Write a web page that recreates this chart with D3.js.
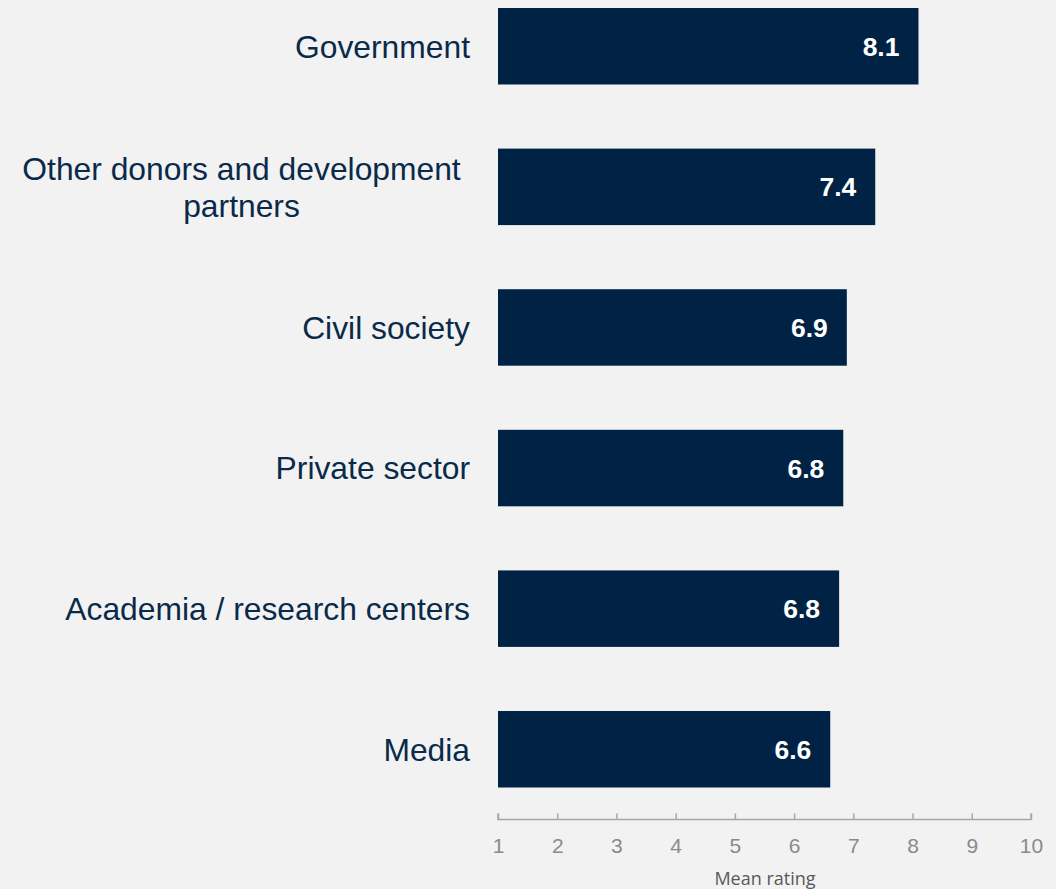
<!DOCTYPE html>
<html>
<head>
<meta charset="utf-8">
<script src="https://cdn.jsdelivr.net/npm/d3@7/dist/d3.min.js"></script>
<style>
  html, body { margin: 0; padding: 0; background: #f2f2f2; }
  svg { display: block; }
</style>
</head>
<body>
<svg id="chart" width="1056" height="889"></svg>
<script>
const categories = [
  "Government",
  "Other donors and development partners",
  "Civil society",
  "Private sector",
  "Academia / research centers",
  "Media"
];
const categoryLines = [
  ["Government"],
  ["Other donors and development", "partners"],
  ["Civil society"],
  ["Private sector"],
  ["Academia / research centers"],
  ["Media"]
];
const values = [8.1, 7.37, 6.89, 6.83, 6.76, 6.61];
const valueLabels = ["8.1", "7.4", "6.9", "6.8", "6.8", "6.6"];
const tickValues = [1, 2, 3, 4, 5, 6, 7, 8, 9, 10];
const axisTitle = "Mean rating";

const svg = d3.select("#chart");
const W = 1056, H = 889;
svg.append("rect").attr("width", W).attr("height", H).attr("fill", "#f2f2f2");

const x = d3.scaleLinear().domain([1, 10]).range([498, 1031]);
const y = d3.scaleBand().domain(categories).range([8, 787.5]).paddingInner(0.456).paddingOuter(0);

const barColor = "#002345";

// bars
svg.append("g").selectAll("rect").data(categories).join("rect")
  .attr("x", x(1))
  .attr("y", d => y(d))
  .attr("width", (d, i) => x(values[i]) - x(1))
  .attr("height", y.bandwidth())
  .attr("fill", barColor);

// value labels
svg.append("g").selectAll("text").data(categories).join("text")
  .attr("x", (d, i) => x(values[i]) - 19)
  .attr("y", d => y(d) + y.bandwidth() / 2 + 9.5)
  .attr("text-anchor", "end")
  .attr("fill", "#ffffff")
  .attr("font-family", "'Liberation Sans', Arial, sans-serif")
  .attr("font-weight", "bold")
  .attr("font-size", "26.5px")
  .text((d, i) => valueLabels[i]);

// category labels
const catFont = 31.8;
const lineH = 37;
const cg = svg.append("g")
  .attr("font-family", "'Liberation Sans', Arial, sans-serif")
  .attr("font-size", catFont + "px")
  .attr("fill", "#0a2a4a");
categories.forEach((c, i) => {
  const lines = categoryLines[i];
  const cy = y(c) + y.bandwidth() / 2;
  if (lines.length === 1) {
    cg.append("text")
      .attr("x", 470)
      .attr("y", cy + 0.36 * catFont)
      .attr("text-anchor", "end")
      .text(lines[0]);
  } else {
    const t = cg.append("text").attr("text-anchor", "middle");
    lines.forEach((ln, j) => {
      t.append("tspan")
        .attr("x", 241.5)
        .attr("y", cy + 0.36 * catFont + (j - (lines.length - 1) / 2) * lineH)
        .text(ln);
    });
  }
});

// x axis
const axisY = 819.5;
const axis = d3.axisBottom(x).tickValues(tickValues).tickSize(-6).tickPadding(0).tickFormat(d3.format("d"));
const ag = svg.append("g").attr("transform", `translate(0,${axisY})`).call(axis);
ag.select(".domain").attr("stroke", "#a6a6a6").attr("stroke-width", 1.5)
  .attr("d", `M${x(1)},-6V0H${x(10)}V-6`);
ag.selectAll(".tick line").attr("stroke", "#a6a6a6").attr("stroke-width", 1.5);
ag.selectAll(".tick text")
  .attr("fill", "#8a8a8a")
  .attr("font-family", "'Liberation Sans', Arial, sans-serif")
  .attr("font-size", "21px")
  .attr("dy", null)
  .attr("y", 33);

// axis title
svg.append("text")
  .attr("x", 765)
  .attr("y", 885)
  .attr("text-anchor", "middle")
  .attr("fill", "#595959")
  .attr("font-family", "'Open Sans', sans-serif")
  .attr("font-size", "18px")
  .text(axisTitle);
</script>
</body>
</html>
